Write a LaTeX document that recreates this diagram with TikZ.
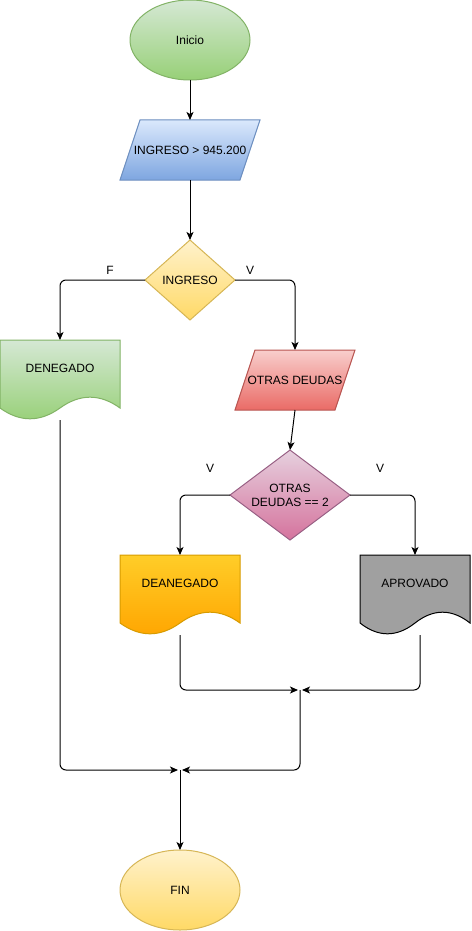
\documentclass[tikz,border=0pt]{standalone}
\usepackage{fontspec}
\setmainfont{Liberation Sans}
\usetikzlibrary{arrows.meta,shapes.geometric,calc,backgrounds}

\definecolor{vtop}{HTML}{D5E8D4}\definecolor{vbot}{HTML}{97D077}\definecolor{vline}{HTML}{82B366}
\definecolor{atop}{HTML}{DAE8FC}\definecolor{abot}{HTML}{7EA6E0}\definecolor{aline}{HTML}{6C8EBF}
\definecolor{ytop}{HTML}{FFF2CC}\definecolor{ybot}{HTML}{FFD966}\definecolor{yline}{HTML}{D6B656}
\definecolor{rtop}{HTML}{F8CECC}\definecolor{rbot}{HTML}{EA6B66}\definecolor{rline}{HTML}{B85450}
\definecolor{ptop}{HTML}{E6D0DE}\definecolor{pbot}{HTML}{D5739D}\definecolor{pline}{HTML}{996185}
\definecolor{otop}{HTML}{FFCD28}\definecolor{obot}{HTML}{FFA500}\definecolor{oline}{HTML}{D79B00}
\definecolor{gfill}{HTML}{A0A0A0}

\newcommand{\docfill}[2]{%
  \begin{pgfonlayer}{background}
  \path[#2] (#1.north west) -- (#1.north east) -- ($(#1.south east)+(0,12)$)
    .. controls ($(#1.south west)!5/6!(#1.south east)+(0,-2.4)$) and ($(#1.south west)!2/3!(#1.south east)+(0,-2.4)$) .. ($(#1.south)+(0,12)$)
    .. controls ($(#1.south west)!1/3!(#1.south east)+(0,26.4)$) and ($(#1.south west)!1/6!(#1.south east)+(0,26.4)$) .. ($(#1.south west)+(0,12)$) -- cycle;
  \end{pgfonlayer}}
\newcommand{\iofill}[2]{%
  \begin{pgfonlayer}{background}
  \path[#2] ($(#1.south west)+(-10,0)$) -- ($(#1.north west)+(10,0)$) -- ($(#1.north east)+(10,0)$) -- ($(#1.south east)+(-10,0)$) -- cycle;
  \end{pgfonlayer}}

\begin{document}
\begin{tikzpicture}[x=1pt,y=-1pt,
  font=\fontsize{12}{14}\selectfont,
  every node/.style={inner sep=0pt,outer sep=0pt},
  term/.style={ellipse,minimum width=120pt,minimum height=80pt},
  io/.style={rectangle,minimum width=#1,minimum height=60pt},
  dec/.style={diamond,align=center},
  doc/.style={rectangle,minimum width=#1,minimum height=56pt},
  verde/.style={draw=vline,top color=vtop,bottom color=vbot,line width=1pt},
  azul/.style={draw=aline,top color=atop,bottom color=abot,line width=1pt},
  amarillo/.style={draw=yline,top color=ytop,bottom color=ybot,line width=1pt},
  rojo/.style={draw=rline,top color=rtop,bottom color=rbot,line width=1pt},
  rosa/.style={draw=pline,top color=ptop,bottom color=pbot,line width=1pt},
  naranja/.style={draw=oline,top color=otop,bottom color=obot,line width=1pt},
  gris/.style={draw=black,fill=gfill,line width=1pt},
  flow/.style={draw,line width=1pt,rounded corners=6pt,-{Stealth[length=8pt,width=7pt,inset=2pt]}}]

  \useasboundingbox (0,0) rectangle (471,931);

  \node[term,verde] (inicio) at (190,40) {Inicio};
  \node[io=120pt] (ingr) at (190,150) {INGRESO > 945.200};
  \iofill{ingr}{azul}
  \node[dec,amarillo,aspect=1.125,minimum width=90pt,minimum height=80pt] (dec1) at (190,280) {INGRESO};
  \node[doc=120pt] (deneg) at (60,368) {DENEGADO};
  \docfill{deneg}{verde}
  \node[io=100pt] (otras) at (295,380) {OTRAS DEUDAS};
  \iofill{otras}{rojo}
  \node[dec,rosa,aspect=1.333,minimum width=120pt,minimum height=90pt] (dec2) at (290,495) {OTRAS\\DEUDAS == 2};
  \node[doc=120pt] (dean) at (180,583) {DEANEGADO};
  \docfill{dean}{naranja}
  \node[doc=110pt] (apro) at (415,583) {APROVADO};
  \docfill{apro}{gris}
  \node[term,amarillo] (fin) at (180,890) {FIN};

  \coordinate (j1) at (300,690);
  \coordinate (j2) at (180,770);

  \node (lf) at (110,270) {F};
  \node (lv1) at (250,270) {V};
  \node (lv2) at (210,468) {V};
  \node (lv3) at (380,468) {V};

  \draw[flow] (inicio) -- (ingr.north);
  \draw[flow] (ingr.south) -- (dec1);
  \draw[flow] (dec1.west) -| (deneg.north);
  \draw[flow] (dec1.east) -| (otras.north);
  \draw[flow] (otras.south) -- (dec2.north);
  \draw[flow] (dec2.west) -| (dean.north);
  \draw[flow] (dec2.east) -| (apro.north);
  \draw[flow,shorten >=2pt] ($(dean.south)+(0,24)$) |- (j1);
  \draw[flow,shorten >=2pt] ($(apro.south)+(5,24)$) |- (j1);
  \draw[flow,shorten >=2pt] (j1) |- (j2);
  \draw[flow,shorten >=2pt] ($(deneg.south)+(0,24)$) |- (j2);
  \draw[flow] (j2) -- (fin);
\end{tikzpicture}
\end{document}
